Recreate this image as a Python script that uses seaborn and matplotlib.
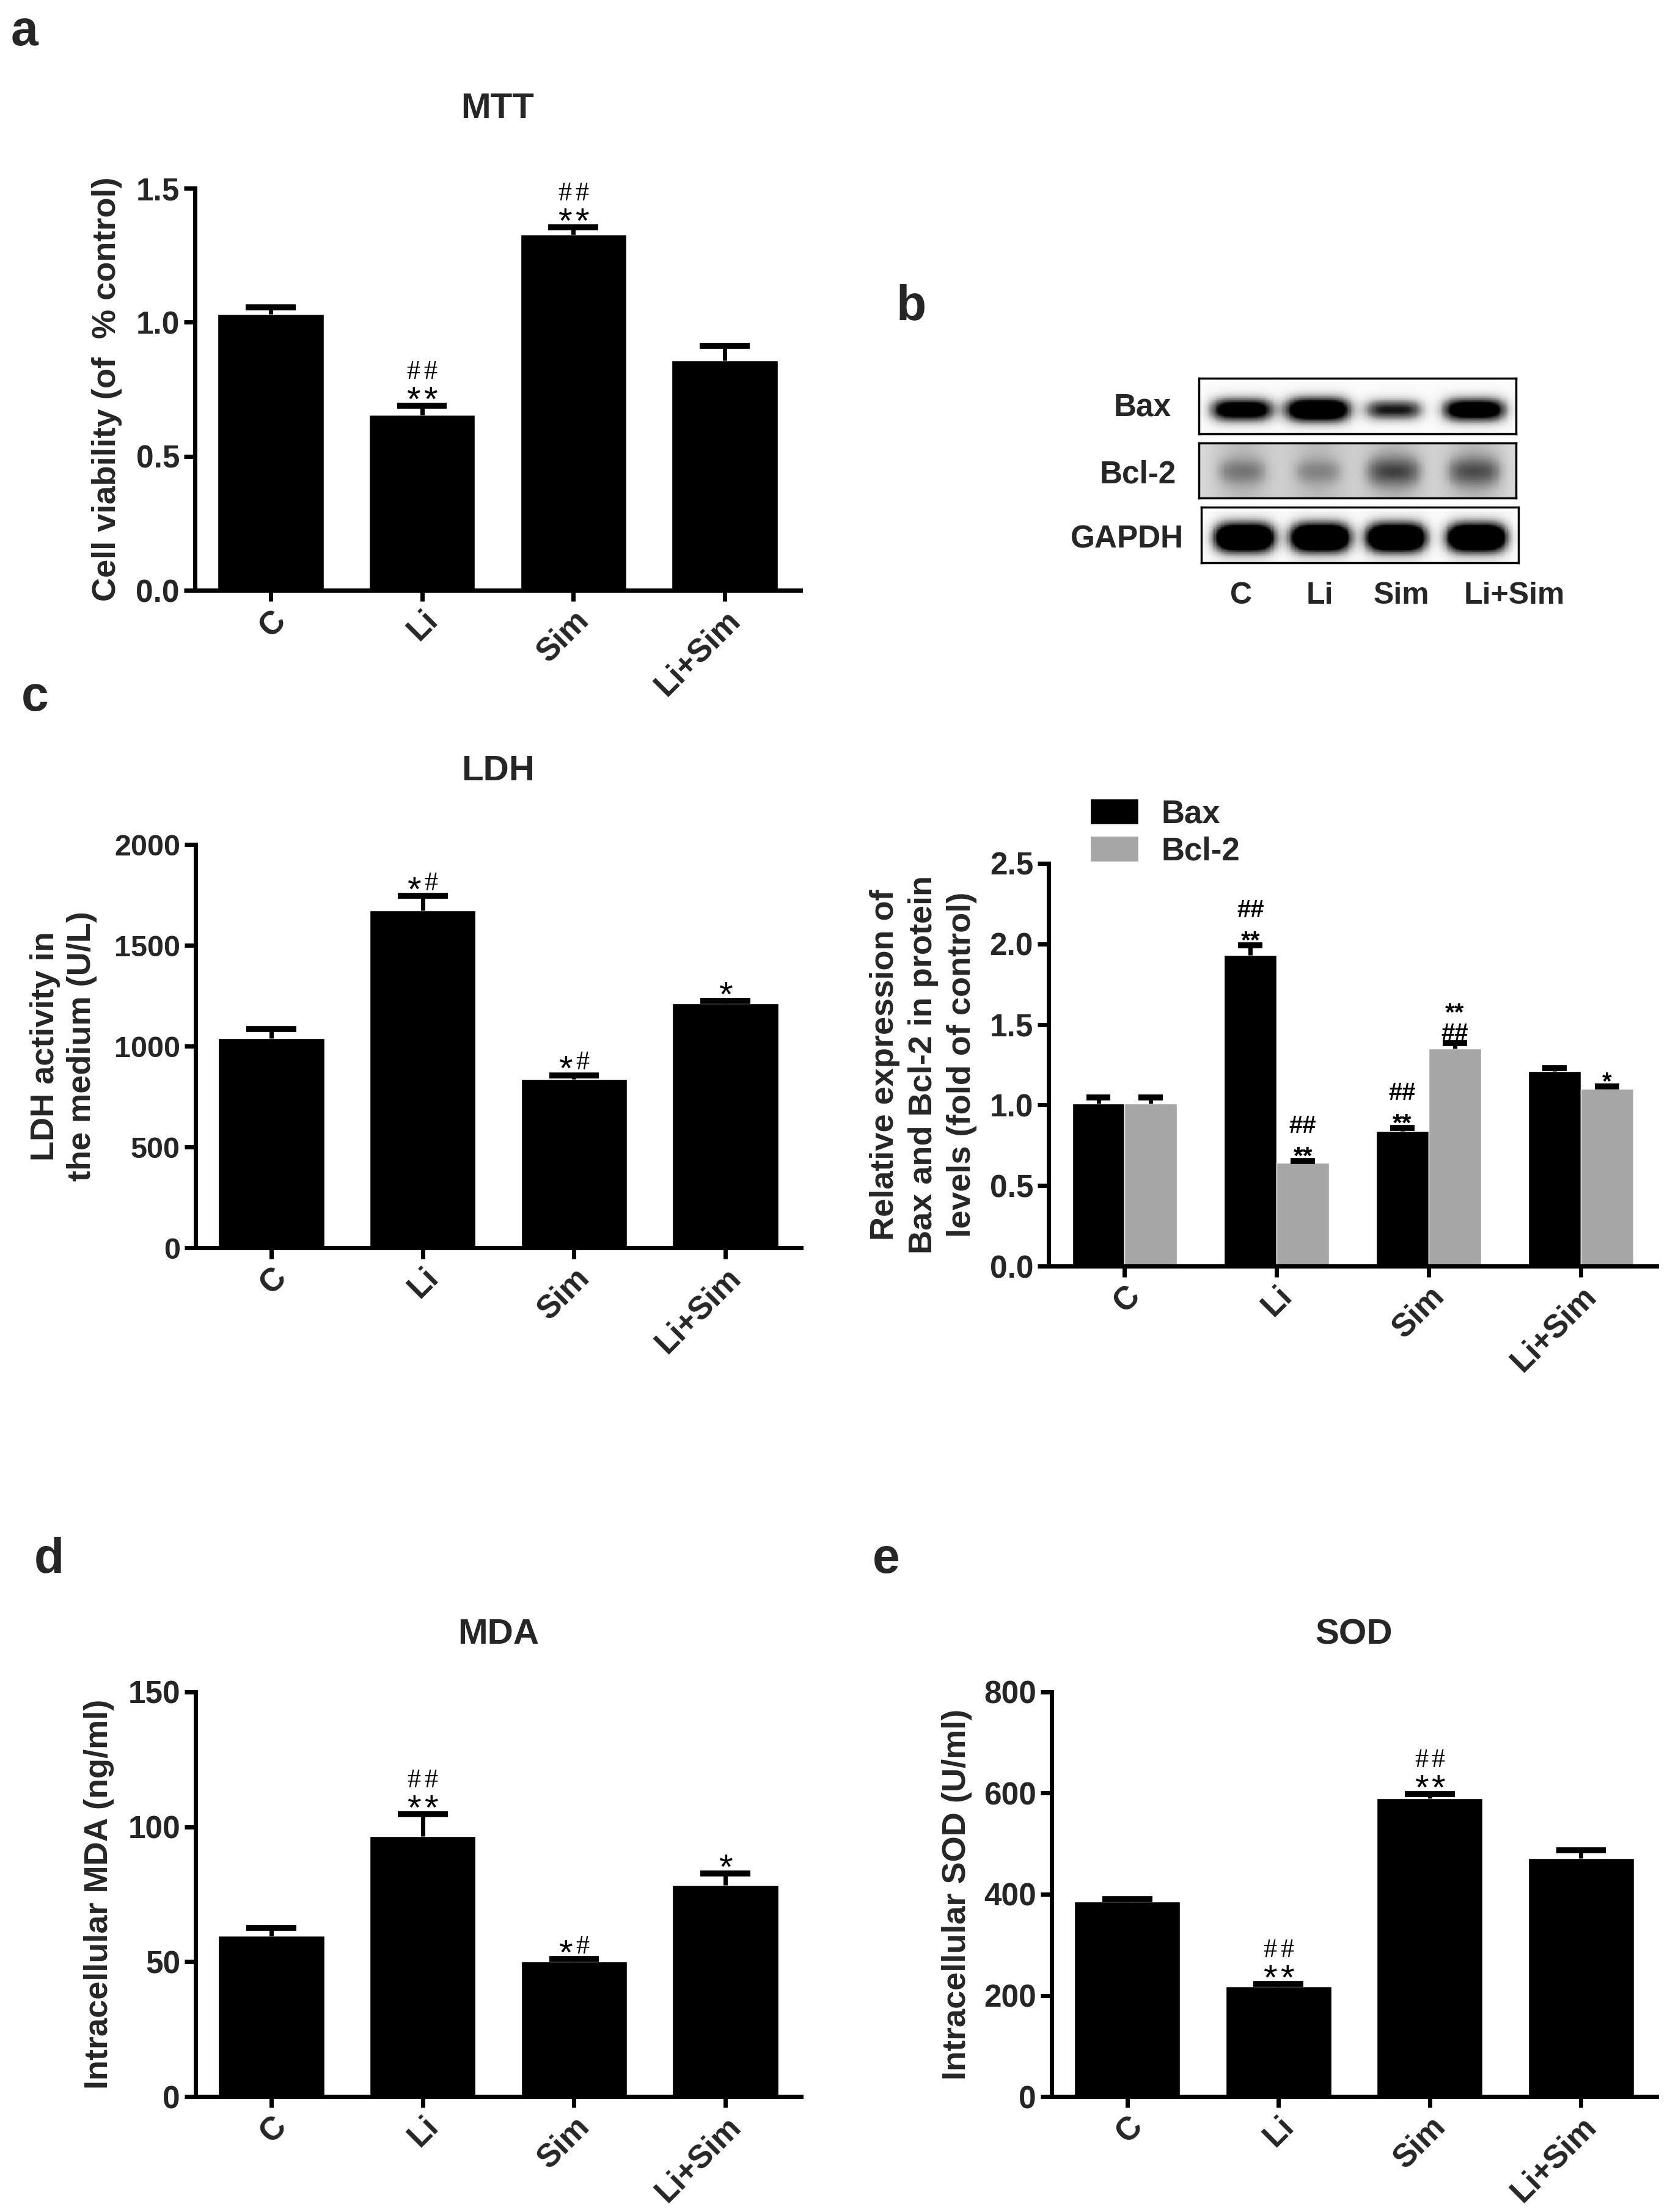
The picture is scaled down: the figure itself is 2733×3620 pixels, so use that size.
import numpy as np
import pandas as pd
import matplotlib
matplotlib.use('Agg')
import matplotlib.pyplot as plt
import seaborn as sns

# ---------------- data ----------------
groups = ['C', 'Li', 'Sim', 'Li+Sim']

mtt_mean = [1.03, 0.655, 1.328, 0.858]
mtt_err = [0.025, 0.034, 0.026, 0.053]
mtt_marks = [[], ['**', '##'], ['**', '##'], []]

ldh_mean = [1039, 1672, 838, 1213]
ldh_err = [45, 73, 18, 12]
ldh_marks = [[], ['*#'], ['*#'], ['*']]

proteins = ['Bax', 'Bcl-2']
bax_mean = [1.01, 1.93, 0.84, 1.21]
bax_err = [0.037, 0.060, 0.017, 0.019]
bax_marks = [[], ['**', '##'], ['**', '##'], []]
bcl2_mean = [1.01, 0.64, 1.35, 1.10]
bcl2_err = [0.037, 0.012, 0.034, 0.014]
bcl2_marks = [[], ['**', '##'], ['##', '**'], ['*']]

mda_mean = [59.6, 96.5, 50.1, 78.3]
mda_err = [2.9, 8.2, 0.9, 4.3]
mda_marks = [[], ['**', '##'], ['*#'], ['*']]

sod_mean = [386, 218, 590, 471]
sod_err = [4, 4, 8, 16]
sod_marks = [[], ['**', '##'], ['**', '##'], []]

blot_rows = ['Bax', 'Bcl-2', 'GAPDH']
blot_bax = [0.85, 1.0, 0.60, 0.88]
blot_bcl2 = [0.40, 0.32, 0.70, 0.65]
blot_gapdh = [1.0, 1.0, 1.0, 1.0]

# ---------------- style ----------------
sns.set_theme(style='ticks')
SANS = ['Liberation Sans', 'DejaVu Sans']
NARROW = ['Liberation Sans Narrow', 'Liberation Sans', 'DejaVu Sans']
SERIF = ['Liberation Serif', 'DejaVu Serif']
plt.rcParams['font.family'] = SANS
plt.rcParams['font.weight'] = 'bold'
plt.rcParams['axes.linewidth'] = 5
plt.rcParams['axes.edgecolor'] = 'black'

BLACK = '#000000'
GRAY = '#A6A6A6'

fig = plt.figure(figsize=(27.33, 36.2), dpi=100)
fig.patch.set_facecolor('white')


def style_axes(ax, ylim, yticks, yticklabels, tick_fs=37):
    sns.despine(ax=ax)
    ax.set_xlim(-0.5, 3.5)
    ax.set_ylim(*ylim)
    ax.set_yticks(yticks)
    ax.set_yticklabels(yticklabels, family=NARROW, fontweight='bold', fontsize=tick_fs)
    ax.set_xticks(range(len(groups)))
    ax.set_xticklabels(groups, rotation=45, ha='right', va='top', rotation_mode='anchor',
                       family=SANS, fontweight='bold', fontsize=38)
    ax.tick_params(axis='both', width=5, length=13, direction='out', color='black')
    ax.tick_params(axis='y', pad=5)
    ax.tick_params(axis='x', pad=4)
    ax.set_xlabel('')
    ax.set_ylabel('')
    ax.set_facecolor('white')
    ax.grid(False)


def draw_err(ax, xs, means, errs, half):
    tops = [m + e for m, e in zip(means, errs)]
    ax.vlines(xs, means, tops, color='black', linewidth=5, zorder=3)
    ax.hlines(tops, [x - half for x in xs], [x + half for x in xs], color='black',
              linewidth=7, zorder=3)


def draw_marks(ax, xs, tops, marks, first, step, pitch, bold=False):
    for x, t, lines in zip(xs, tops, marks):
        for k, line in enumerate(lines):
            if bold:
                corr = 0.32 if line[0] == '*' else 0.1
                fs = 29
                ax.annotate(line, xy=(x, t), xytext=(0, first + k * step - corr * fs),
                            textcoords='offset points', ha='center', va='center',
                            fontsize=fs, family=SANS, fontweight='bold',
                            annotation_clip=False, color='black')
                continue
            n = len(line)
            for j, ch in enumerate(line):
                dx = (j - (n - 1) / 2) * pitch
                if ch == '*':
                    fam, fs, corr = SANS, 42, 0.32
                else:
                    fam, fs, corr = SERIF, 32, 0.11
                dy = first + k * step - corr * fs
                ax.annotate(ch, xy=(x, t), xytext=(dx, dy), textcoords='offset points',
                            ha='center', va='center', fontsize=fs, family=fam,
                            fontweight='normal', annotation_clip=False, color='black')


def single_panel(rect, means, errs, marks, ylim, yticks, yticklabels, ylabel, ylabel_x,
                 title, title_y, tick_fs=37, linespacing=1.2):
    ax = fig.add_axes(rect)
    df = pd.DataFrame({'group': groups, 'value': means})
    sns.barplot(data=df, x='group', y='value', color=BLACK, saturation=1, width=0.7,
                errorbar=None, ax=ax, zorder=2)
    xs = list(range(len(groups)))
    draw_err(ax, xs, means, errs, 0.165)
    tops = [m + e for m, e in zip(means, errs)]
    draw_marks(ax, xs, tops, marks, 18, 25, 20)
    style_axes(ax, ylim, yticks, yticklabels, tick_fs)
    ax.text(ylabel_x, 0.5, ylabel, transform=ax.transAxes, rotation=90, ha='center',
            va='center', fontsize=39, fontweight='bold', family=SANS, linespacing=linespacing,
            multialignment='center')
    ax.text(0.5, title_y, title, transform=ax.transAxes, ha='center', va='baseline',
            fontsize=42, fontweight='bold', family=SANS)
    return ax


# ---------------- panel a: MTT ----------------
single_panel([0.1167, 0.7331, 0.3626, 0.1818], mtt_mean, mtt_err, mtt_marks,
             (0, 1.5), [0, 0.5, 1.0, 1.5], ['0.0', '0.5', '1.0', '1.5'],
             'Cell viability (of  % control)', -0.145, 'MTT', 1.175)

# ---------------- panel c-left: LDH ----------------
single_panel([0.1171, 0.4359, 0.3626, 0.1823], ldh_mean, ldh_err, ldh_marks,
             (0, 2000), [0, 500, 1000, 1500, 2000], ['0', '500', '1000', '1500', '2000'],
             'LDH activity in\nthe medium (U/L)', -0.218, 'LDH', 1.159, tick_fs=35,
             linespacing=1.25)

# ---------------- panel d: MDA ----------------
single_panel([0.1171, 0.0522, 0.3626, 0.1829], mda_mean, mda_err, mda_marks,
             (0, 150), [0, 50, 100, 150], ['0', '50', '100', '150'],
             'Intracellular MDA (ng/ml)', -0.159, 'MDA', 1.119)

# ---------------- panel e: SOD ----------------
single_panel([0.6297, 0.0522, 0.3623, 0.1829], sod_mean, sod_err, sod_marks,
             (0, 800), [0, 200, 400, 600, 800], ['0', '200', '400', '600', '800'],
             'Intracellular SOD (U/ml)', -0.157, 'SOD', 1.119)

# ---------------- panel c-right: Bax / Bcl-2 ----------------
ax_cr = fig.add_axes([0.6279, 0.4276, 0.3641, 0.1821])
df_cr = pd.DataFrame({
    'group': groups * 2,
    'protein': [proteins[0]] * 4 + [proteins[1]] * 4,
    'value': bax_mean + bcl2_mean,
})
sns.barplot(data=df_cr, x='group', y='value', hue='protein', palette=[BLACK, GRAY],
            saturation=1, width=0.69, errorbar=None, ax=ax_cr, zorder=2)
off = 0.69 / 4
xs_bax = [i - off for i in range(4)]
xs_bcl = [i + off for i in range(4)]
draw_err(ax_cr, xs_bax, bax_mean, bax_err, 0.08)
draw_err(ax_cr, xs_bcl, bcl2_mean, bcl2_err, 0.08)
draw_marks(ax_cr, xs_bax, [m + e for m, e in zip(bax_mean, bax_err)], bax_marks, 14, 30, 0,
           bold=True)
draw_marks(ax_cr, xs_bcl, [m + e for m, e in zip(bcl2_mean, bcl2_err)], bcl2_marks, 14, 30, 0,
           bold=True)
handles, labels = ax_cr.get_legend_handles_labels()
if ax_cr.get_legend() is not None:
    ax_cr.get_legend().remove()
style_axes(ax_cr, (0, 2.5), [0, 0.5, 1.0, 1.5, 2.0, 2.5],
           ['0.0', '0.5', '1.0', '1.5', '2.0', '2.5'])
ax_cr.text(-0.206, 0.5, 'Relative expression of\nBax and Bcl-2 in protein\nlevels (fold of control)',
           transform=ax_cr.transAxes, rotation=90, ha='center', va='center', fontsize=39,
           fontweight='bold', family=SANS, linespacing=1.33, multialignment='center')
ax_cr.legend(handles, labels, loc='upper left', bbox_to_anchor=(0.6528, 0.6390),
             bbox_transform=fig.transFigure, frameon=False,
             prop=dict(family=NARROW, weight='bold', size=38),
             handlelength=1.5, handleheight=0.85, handletextpad=0.7, labelspacing=0.2,
             borderaxespad=0, borderpad=0)

# ---------------- panel b: western blot ----------------
def blot_image(intens, bg, cy, sx, sy, gain, smear=0.0):
    ny, nx = 60, 240
    yy, xx = np.mgrid[0:1:ny * 1j, 0:1:nx * 1j]
    img = np.full((ny, nx), bg, dtype=float)
    lanes = [0.135, 0.375, 0.615, 0.87]
    for c, v in zip(lanes, intens):
        img += gain * v * np.exp(-((xx - c) / (sx * (0.8 + 0.3 * v))) ** 4
                                 - ((yy - cy) / (sy * (0.7 + 0.4 * v))) ** 2)
        if smear:
            img += smear * np.exp(-((xx - c) / (sx * 1.2)) ** 2)
    return np.clip(img, 0, 1)


blot_specs = [
    ([0.7179, 0.8039, 0.1899, 0.0251], blot_image(blot_bax, 0.03, 0.57, 0.095, 0.21, 1.5)),
    ([0.7179, 0.7749, 0.1899, 0.0248], blot_image(blot_bcl2, 0.22, 0.52, 0.085, 0.28, 0.6, 0.16)),
    ([0.7193, 0.7456, 0.1899, 0.0251], blot_image(blot_gapdh, 0.02, 0.55, 0.088, 0.25, 1.8)),
]
for rect, img in blot_specs:
    axb = fig.add_axes(rect)
    sns.heatmap(img, cmap='Greys', vmin=0, vmax=1, cbar=False, xticklabels=False,
                yticklabels=False, ax=axb, linewidths=0, rasterized=True)
    for sp in axb.spines.values():
        sp.set_visible(True)
        sp.set_linewidth(2.5)
        sp.set_color('black')

blot_label_y = [0.8157, 0.7854, 0.7561]
blot_label_x = [0.7014, 0.7044, 0.7087]
for name, lx, ly in zip(blot_rows, blot_label_x, blot_label_y):
    fig.text(lx, ly, name, ha='right', va='center', fontsize=37, fontweight='bold', family=SANS)
lane_label_x = [0.7431, 0.7903, 0.8390, 0.9067]
for name, lx in zip(groups, lane_label_x):
    fig.text(lx, 0.7307, name, ha='center', va='center', fontsize=36, fontweight='bold',
             family=SANS)

# ---------------- panel letters ----------------
for letter, x, y in [('a', 0.0066, 0.9796), ('b', 0.5368, 0.8555), ('c', 0.0128, 0.6787),
                     ('d', 0.0205, 0.2890), ('e', 0.5225, 0.2890)]:
    fig.text(x, y, letter, ha='left', va='baseline', fontsize=58, fontweight='bold',
             family=SANS)

fig.savefig('out.png', dpi=100, facecolor='white')
